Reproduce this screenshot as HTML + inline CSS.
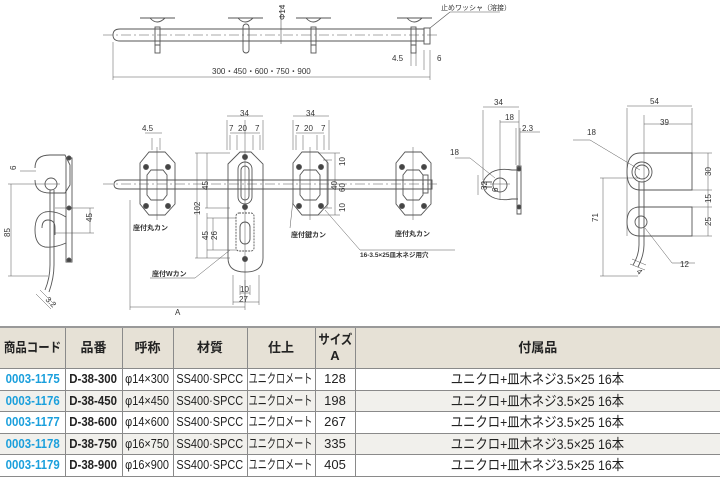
<!DOCTYPE html>
<html><head><meta charset="utf-8">
<style>
html,body{margin:0;padding:0;background:#fff;width:720px;height:479px;overflow:hidden}
svg{position:absolute;left:0;top:0}
svg text{font-family:"Liberation Sans","Noto Sans CJK JP",sans-serif;fill:#333}
table{position:absolute;left:0;top:326px;width:720px;border-collapse:collapse;table-layout:fixed;font-family:"Liberation Sans","Noto Sans CJK JP",sans-serif;font-size:13px;color:#222;border-top:2px solid #999}
td,th{border:1px solid #8a8a8a;text-align:center;padding:0;white-space:nowrap;overflow:hidden}
th{background:#e6e1d6;height:40px;font-weight:bold;font-size:13px;line-height:16px}
td{height:20.5px;line-height:20px}
tr.g td{background:#f1f0ec}
td.c{color:#1a9fdc;font-weight:bold}
td.b{font-weight:bold}
td span,th span{display:inline-block;margin:0 -40px;transform:scaleX(0.88);transform-origin:center}
td.s span{transform:scaleX(0.84)}
td.u span{transform:scaleX(0.7)}
td.w{font-size:14px}
tr td:first-child,tr th:first-child{border-left:none}
tr td:last-child,tr th:last-child{border-right:none}
</style></head><body>
<svg width="720" height="326" viewBox="0 0 720 326" fill="none" stroke="#555" stroke-width="0.9">
<line x1="103" y1="35" x2="440" y2="35" stroke-dasharray="10,3,2,3" stroke-width="0.6"/>
<path d="M120 29 H424 V41 H120 Q113 41 113 35 Q113 29 120 29 Z"/>
<rect x="424" y="28" width="6" height="16"/>
<line x1="281" y1="5" x2="281" y2="44" stroke-width="0.6"/>
<text x="285" y="20" font-size="8" stroke="none" transform="rotate(-90 285 20)">Φ14</text>
<g stroke-width="0.9">
<path d="M140 18 H175 M150 18 Q157 26 165 18"/><rect x="155" y="27" width="5" height="18"/><rect x="155" y="45" width="5" height="8"/>
<path d="M228 18 H263 M238 18 Q245 26 253 18"/><rect x="243" y="24" width="6" height="29" rx="3"/>
<path d="M296 18 H331 M306 18 Q313 26 321 18"/><rect x="311" y="27" width="5" height="18"/><rect x="311" y="45" width="5" height="8"/>
<path d="M397 18 H432 M407 18 Q414 26 422 18"/><rect x="411" y="27" width="5" height="18"/><rect x="411" y="45" width="5" height="8"/>
</g>
<line x1="430" y1="28" x2="450" y2="12" stroke-width="0.6"/><line x1="450" y1="12" x2="500" y2="12" stroke-width="0.6"/>
<text x="441" y="10" font-size="7" stroke="none">止めワッシャ（溶接）</text>
<path d="M411 50 V66 M416 50 V66 M424 50 V70 M430 50 V70 M113 42 V80 M430 70 V80" stroke-width="0.5"/>
<line x1="113" y1="77" x2="430" y2="77" stroke-width="0.6"/>
<text x="212" y="74" font-size="8" stroke="none">300・450・600・750・900</text>
<text x="392" y="61" font-size="8" stroke="none">4.5</text>
<text x="437" y="61" font-size="8" stroke="none">6</text>

<line x1="103" y1="184" x2="440" y2="184" stroke-dasharray="10,3,2,3" stroke-width="0.6"/>
<path d="M120 180 H432 V189 H120 Q114 189 114 184.5 Q114 180 120 180 Z"/>
<g>
<path d="M149 152 H165 L175 163 V204 L165 215 H149 L140 204 V163 Z"/>
<path d="M151 170 H163 L167 175 V195 L163 200 H151 L147 195 V175 Z"/>
<circle cx="146" cy="167" r="2.5" fill="#444"/><circle cx="168" cy="167" r="2.5" fill="#444"/>
<circle cx="146" cy="206" r="2.5" fill="#444"/><circle cx="168" cy="206" r="2.5" fill="#444"/>
<line x1="157" y1="147" x2="157" y2="220" stroke-width="0.5"/>
</g>
<g>
<path d="M302 152 H318 L328 163 V204 L318 215 H302 L293 204 V163 Z"/>
<path d="M304 170 H316 L320 175 V195 L316 200 H304 L300 195 V175 Z"/>
<circle cx="299" cy="167" r="2.5" fill="#444"/><circle cx="321" cy="167" r="2.5" fill="#444"/>
<circle cx="299" cy="206" r="2.5" fill="#444"/><circle cx="321" cy="206" r="2.5" fill="#444"/>
<line x1="310" y1="147" x2="310" y2="220" stroke-width="0.5"/>
</g>
<g>
<path d="M405 152 H421 L431 163 V204 L421 215 H405 L396 204 V163 Z"/>
<path d="M407 170 H419 L423 175 V195 L419 200 H407 L403 195 V175 Z"/>
<rect x="423" y="175" width="5" height="18"/>
<circle cx="402" cy="167" r="2.5" fill="#444"/><circle cx="424" cy="167" r="2.5" fill="#444"/>
<circle cx="402" cy="206" r="2.5" fill="#444"/><circle cx="424" cy="206" r="2.5" fill="#444"/>
<line x1="413" y1="147" x2="413" y2="220" stroke-width="0.5"/>
</g>
<g>
<path d="M228 164 L240 152 H251 L263 164 V258 Q263 272 245 272 Q228 272 228 258 Z"/>
<rect x="238" y="162" width="14" height="42" rx="7"/>
<rect x="241" y="166" width="8" height="34" rx="4"/>
<rect x="236" y="213" width="18" height="38" rx="3" stroke-dasharray="2,1"/>
<rect x="240" y="222" width="10" height="22" rx="5"/>
<circle cx="245" cy="157" r="2.5" fill="#444"/><circle cx="245" cy="207" r="2.5" fill="#444"/><circle cx="245" cy="259" r="2.5" fill="#444"/>
<line x1="245" y1="120" x2="245" y2="300" stroke-width="0.5"/>
</g>
<g stroke-width="0.5">
<path d="M227 120 V150 M263 120 V150 M227 116 H263 M230 135 V150 M237 135 V150 M253 135 V150 M260 135 V150 M230 133 H260"/>
<path d="M293 120 V150 M329 120 V150 M293 116 H329 M296 135 V150 M303 135 V150 M317 135 V150 M324 135 V150 M296 133 H324"/>
<path d="M152 138 V150 M160 138 V150 M145 133 H162"/>
<path d="M195 153 H230 M195 258 H230 M197 153 V258 M207 153 V208 M207 213 V258 M213 218 V250 M205 208 H230 M207 218 H236 M207 250 H236"/>
<path d="M318 153 H340 M318 215 H340 M335 153 V215 M327 160 V208 M323 160 H332 M323 208 H332"/>
<path d="M130 200 V310 M245 280 V310 M130 307 H245"/>
<path d="M233 275 V305 M259 275 V305 M233 302 H259 M240 285 V295 M250 285 V295 M240 293 H250"/>
<line x1="325" y1="210" x2="360" y2="250"/><line x1="360" y1="250" x2="455" y2="250"/>
<line x1="195" y1="278" x2="230" y2="250"/><line x1="150" y1="278" x2="195" y2="278"/>
<line x1="293" y1="200" x2="290" y2="228"/>
</g>
<g font-size="8" stroke="none">
<text x="240" y="116">34</text><text x="306" y="116">34</text>
<text x="229" y="131">7</text><text x="238" y="131">20</text><text x="255" y="131">7</text>
<text x="295" y="131">7</text><text x="304" y="131">20</text><text x="321" y="131">7</text>
<text x="142" y="131">4.5</text>
<text x="291" y="237" font-size="7" font-weight="bold">座付鍵カン</text>
<text x="133" y="230" font-size="7" font-weight="bold">座付丸カン</text>
<text x="395" y="236" font-size="7" font-weight="bold">座付丸カン</text>
<text x="360" y="257" font-size="6.5" font-weight="bold">16-3.5×25皿木ネジ用穴</text>
<text x="152" y="276" font-size="7" font-weight="bold">座付Wカン</text>
<text x="175" y="315">A</text>
<text x="240" y="292">10</text><text x="239" y="302">27</text>
<text x="200" y="215" transform="rotate(-90 200 215)">102</text>
<text x="208" y="190" transform="rotate(-90 208 190)">45</text>
<text x="208" y="240" transform="rotate(-90 208 240)">45</text>
<text x="217" y="240" transform="rotate(-90 217 240)">26</text>
<text x="345" y="192" transform="rotate(-90 345 192)">60</text>
<text x="345" y="166" transform="rotate(-90 345 166)">10</text>
<text x="345" y="212" transform="rotate(-90 345 212)">10</text>
<text x="337" y="190" transform="rotate(-90 337 190)">40</text>
</g>

<g>
<path d="M35 168 Q35 155 50 155 H65 L70 165 V185 L65 193 H50 Q35 193 35 180"/>
<circle cx="51" cy="184" r="6"/>
<path d="M66 158 H72 V262 H66 Z"/>
<circle cx="69" cy="158" r="2" fill="#444"/><circle cx="69" cy="208" r="2" fill="#444"/><circle cx="69" cy="260" r="2" fill="#444"/>
<path d="M66 217 Q55 210 45 212 Q35 215 35 230 Q35 245 45 247 Q55 248 66 243"/>
<path d="M42 228 Q42 220 48 220 Q55 220 55 228 V235"/>
<path d="M50 190 V265 Q50 278 45 290 M54 190 V265 Q54 278 49 292"/>
</g>
<g stroke-width="0.5">
<path d="M8 184 H60 M8 276 H48 M11 184 V276 M55 208 H94 M55 233 H94 M90 208 V233 M20 171 H36"/>
<path d="M40 290 L55 305 M36 294 L51 309"/>
</g>
<g font-size="8" stroke="none">
<text x="16" y="170" transform="rotate(-90 16 170)">6</text>
<text x="10" y="237" transform="rotate(-90 10 237)">85</text>
<text x="92" y="222" transform="rotate(-90 92 222)">45</text>
<text x="45" y="300" transform="rotate(45 45 300)">3.2</text>
</g>

<g>
<path d="M518 170 H512 Q500 168 492 172 Q483 178 483 184 Q483 192 492 197 Q500 201 512 199 H518"/>
<circle cx="500" cy="185" r="7"/>
<path d="M517 166 H521 V214 H517 Z"/>
<circle cx="519" cy="169" r="2" fill="#444"/><circle cx="519" cy="207" r="2" fill="#444"/>
<path d="M483 182 H492 M483 187 H492"/>
</g>
<g stroke-width="0.5">
<path d="M483 110 V180 M519 110 V168 M483 107 H519 M500 120 V200 M500 122 H519 M516 128 V165 M520 128 V165 M520 132 H540"/>
<path d="M470 158 L495 178 M455 158 H470 M478 175 V195 M490 184 H510"/>
</g>
<g font-size="8" stroke="none">
<text x="494" y="105">34</text><text x="505" y="120">18</text><text x="522" y="131">2.3</text>
<text x="450" y="155">18</text>
<text x="487" y="190" transform="rotate(-90 487 190)">32</text>
<text x="498" y="192" transform="rotate(-90 498 192)">6</text>
</g>

<g>
<path d="M640 153 H692 V190 H640 Q627 190 627 172 Q627 153 640 153 Z"/>
<circle cx="642" cy="172" r="10"/><circle cx="642" cy="172" r="7"/>
<path d="M640 207 H692 V236 H640 Q627 236 627 222 Q627 207 640 207 Z"/>
<circle cx="641" cy="222" r="6"/>
<path d="M639 182 V245 Q639 255 633 265 M644 182 V245 Q644 255 638 267"/>
</g>
<g stroke-width="0.5">
<path d="M627 108 V236 M692 108 V153 M627 106 H692 M644 115 V185 M644 124 H692"/>
<path d="M692 153 H712 M692 190 H712 M692 207 H712 M692 236 H712 M708 153 V236"/>
<path d="M600 178 H640 M603 178 V276 M600 276 H638"/>
<path d="M590 140 L640 170 M573 140 H590"/>
<path d="M645 228 L672 263 H695"/>
<path d="M630 264 L645 270 M632 259 L646 265"/>
</g>
<g font-size="8" stroke="none">
<text x="650" y="104">54</text><text x="660" y="125">39</text><text x="587" y="135">18</text>
<text x="680" y="267">12</text>
<text x="711" y="176" transform="rotate(-90 711 176)">30</text>
<text x="711" y="203" transform="rotate(-90 711 203)">15</text>
<text x="711" y="226" transform="rotate(-90 711 226)">25</text>
<text x="598" y="222" transform="rotate(-90 598 222)">71</text>
<text x="636" y="272" transform="rotate(45 636 272)">4</text>
</g>
</svg>

<table>
<colgroup><col style="width:65px"><col style="width:57px"><col style="width:51px"><col style="width:74px"><col style="width:68px"><col style="width:40px"><col></colgroup>
<tr><th><span>商品コード</span></th><th>品番</th><th>呼称</th><th>材質</th><th>仕上</th><th><span>サイズ</span><br>A</th><th>付属品</th></tr>
<tr><td class="c"><span>0003-1175</span></td><td class="b"><span>D-38-300</span></td><td class="s"><span>φ14×300</span></td><td class="s"><span>SS400·SPCC</span></td><td class="u"><span>ユニクロメート</span></td><td>128</td><td class="w"><span>ユニクロ+皿木ネジ3.5×25 16本</span></td></tr>
<tr class="g"><td class="c"><span>0003-1176</span></td><td class="b"><span>D-38-450</span></td><td class="s"><span>φ14×450</span></td><td class="s"><span>SS400·SPCC</span></td><td class="u"><span>ユニクロメート</span></td><td>198</td><td class="w"><span>ユニクロ+皿木ネジ3.5×25 16本</span></td></tr>
<tr><td class="c"><span>0003-1177</span></td><td class="b"><span>D-38-600</span></td><td class="s"><span>φ14×600</span></td><td class="s"><span>SS400·SPCC</span></td><td class="u"><span>ユニクロメート</span></td><td>267</td><td class="w"><span>ユニクロ+皿木ネジ3.5×25 16本</span></td></tr>
<tr class="g"><td class="c"><span>0003-1178</span></td><td class="b"><span>D-38-750</span></td><td class="s"><span>φ16×750</span></td><td class="s"><span>SS400·SPCC</span></td><td class="u"><span>ユニクロメート</span></td><td>335</td><td class="w"><span>ユニクロ+皿木ネジ3.5×25 16本</span></td></tr>
<tr><td class="c"><span>0003-1179</span></td><td class="b"><span>D-38-900</span></td><td class="s"><span>φ16×900</span></td><td class="s"><span>SS400·SPCC</span></td><td class="u"><span>ユニクロメート</span></td><td>405</td><td class="w"><span>ユニクロ+皿木ネジ3.5×25 16本</span></td></tr>
</table>
</body></html>
